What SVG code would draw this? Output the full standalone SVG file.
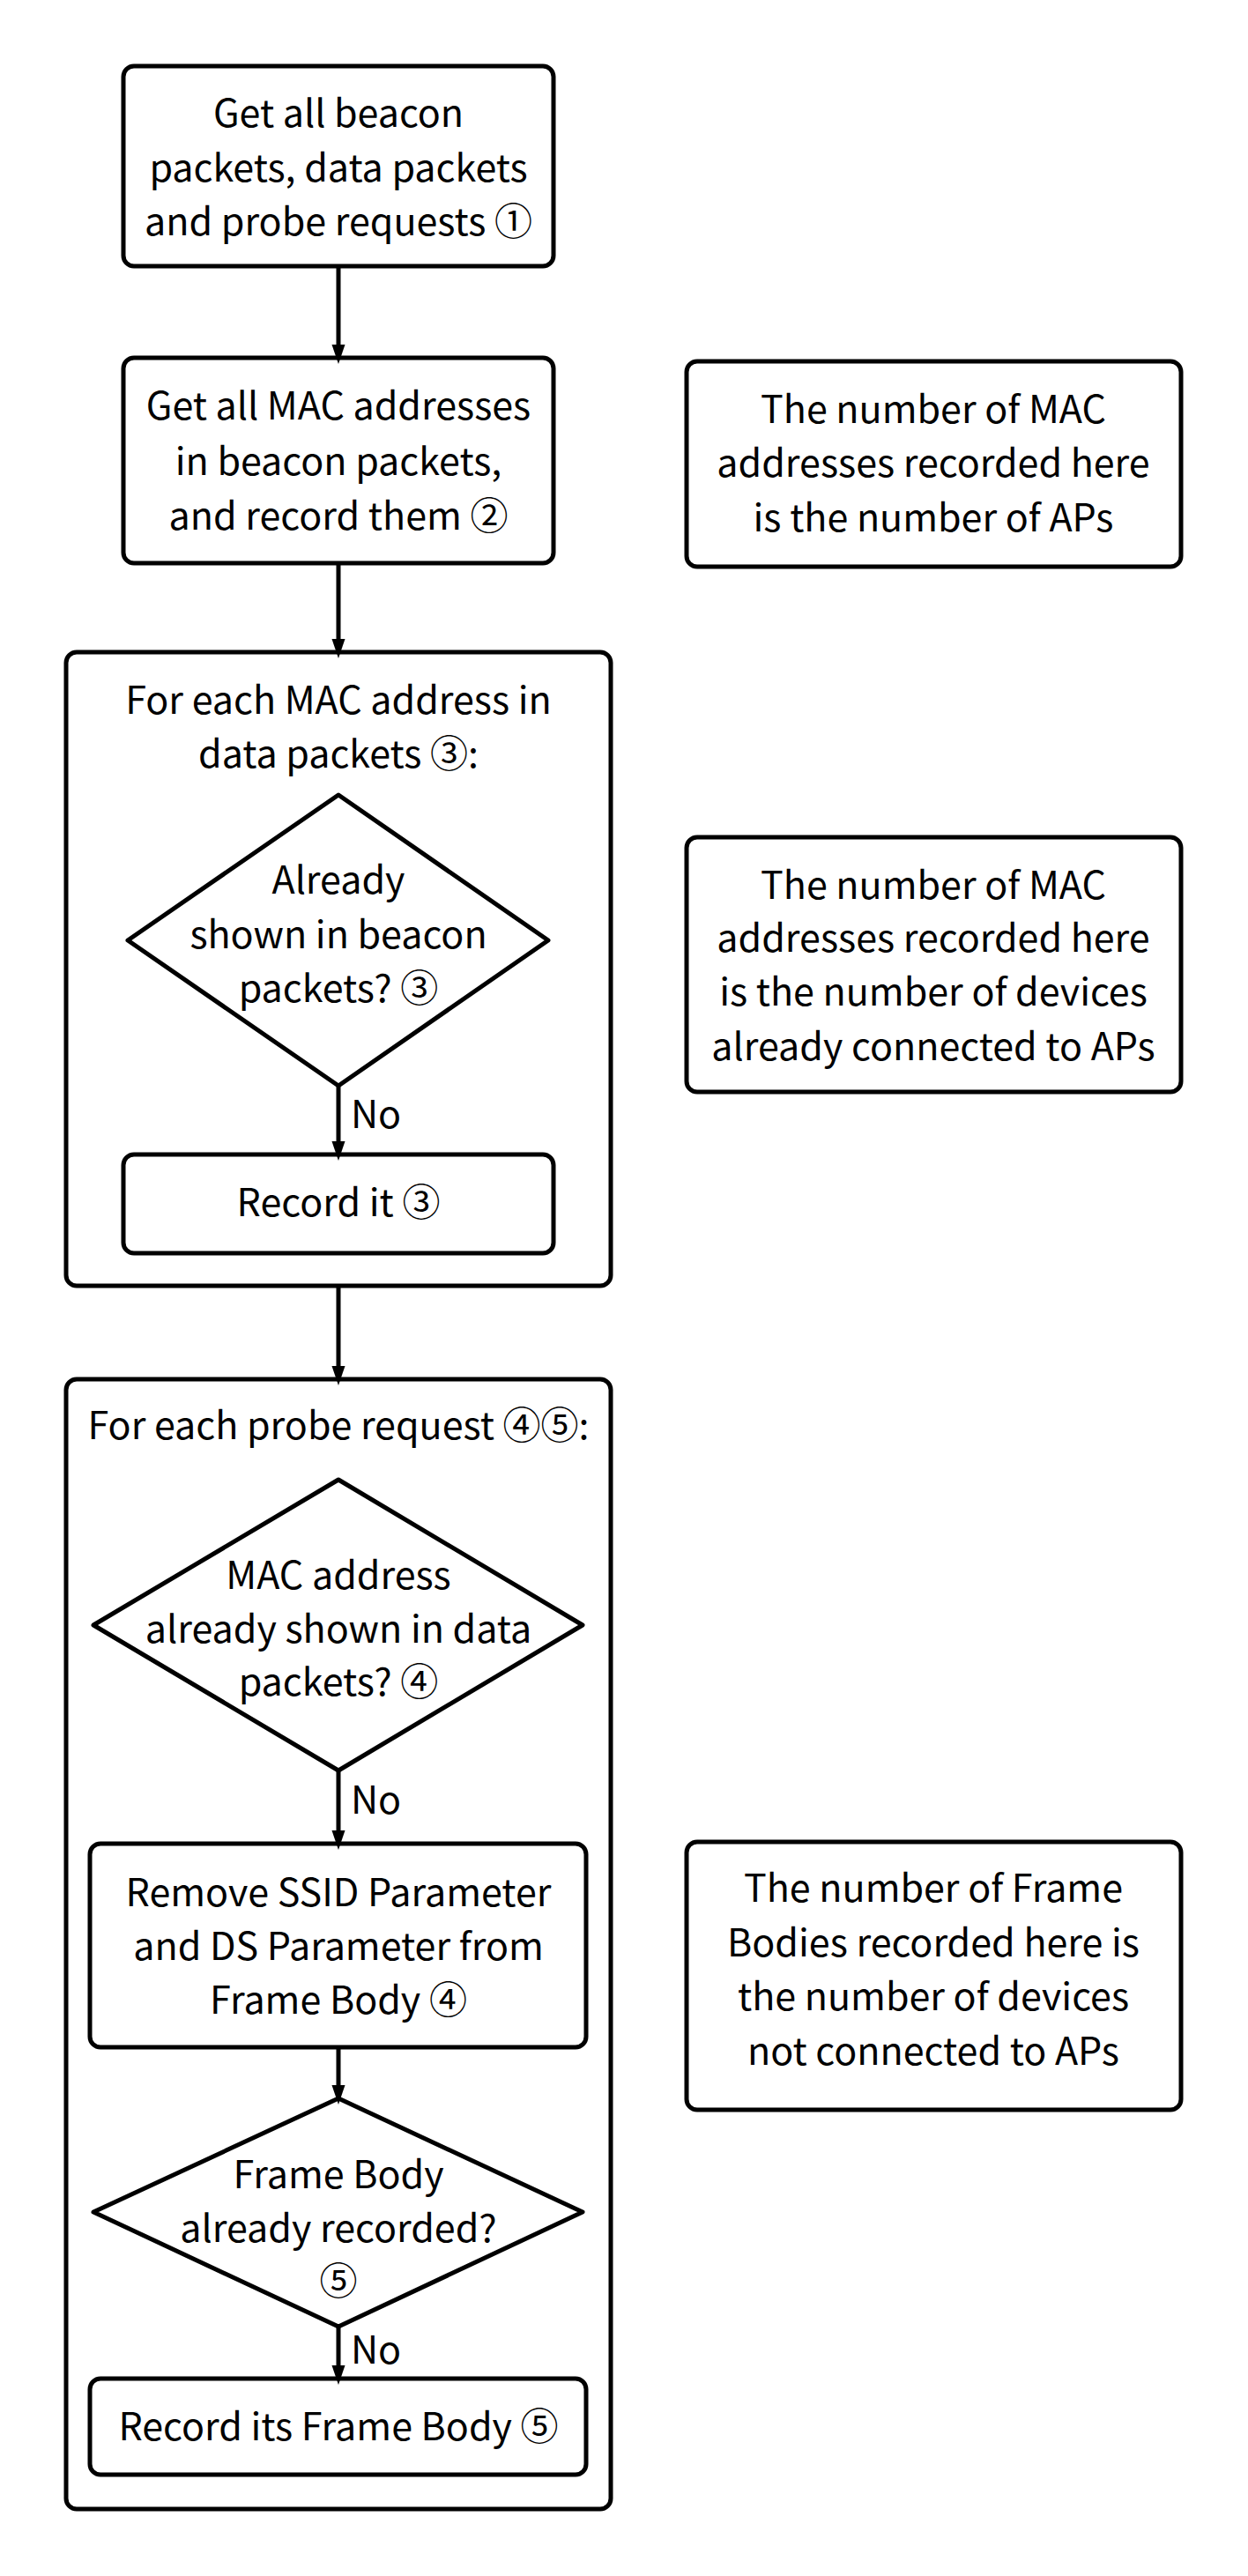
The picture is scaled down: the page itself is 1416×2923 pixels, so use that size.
<svg xmlns="http://www.w3.org/2000/svg" width="1416" height="2923" viewBox="0 0 1416 2923">
<defs>
<marker id="ah" markerUnits="userSpaceOnUse" markerWidth="22" markerHeight="32" refX="22" refY="11" viewBox="0 0 32 22" orient="auto">
<path d="M0,0 L32,11 L0,22 Z" fill="#000"/>
</marker>
<style>
.b{fill:#fff;stroke:#000;stroke-width:5}
.d{fill:#fff;stroke:#000;stroke-width:5;stroke-linejoin:round}
.t{font-family:"Noto Sans CJK SC","Noto Sans",sans-serif;font-size:43px;text-anchor:middle;fill:#000}
.l{font-family:"Noto Sans CJK SC","Noto Sans",sans-serif;font-size:43px;fill:#000}
.c{fill:none;stroke:#000;stroke-width:5}
</style>
</defs>
<rect width="1416" height="2923" fill="#fff"/>
<g id="loop1">
<rect class="b" x="75" y="740" width="618" height="719" rx="12"/>
<text class="t" x="384" y="810">For each MAC address in</text>
<text class="t" x="384" y="871">data packets ③:</text>
</g>
<g id="loop2">
<rect class="b" x="75" y="1565" width="618" height="1282" rx="12"/>
<text class="t" x="384" y="1633">For each probe request ④⑤:</text>
</g>
<g id="n1">
<rect class="b" x="140" y="75" width="488" height="227" rx="12"/>
<text class="t" x="384" y="144">Get all beacon</text>
<text class="t" x="384" y="206">packets, data packets</text>
<text class="t" x="384" y="267">and probe requests ①</text>
</g>
<g id="n2">
<rect class="b" x="140" y="406" width="488" height="233" rx="12"/>
<text class="t" x="384" y="476">Get all MAC addresses</text>
<text class="t" x="384" y="539">in beacon packets,</text>
<text class="t" x="384" y="601">and record them ②</text>
</g>
<g id="noteA">
<rect class="b" x="779" y="410" width="561" height="233" rx="12"/>
<text class="t" x="1059" y="480">The number of MAC</text>
<text class="t" x="1059" y="541">addresses recorded here</text>
<text class="t" x="1059" y="603">is the number of APs</text>
</g>
<g id="d1">
<path class="d" d="M384,902 L622,1067 L384,1232 L145,1067 Z"/>
<text class="t" x="384" y="1014">Already</text>
<text class="t" x="384" y="1076">shown in beacon</text>
<text class="t" x="384" y="1137">packets? ③</text>
</g>
<g id="n3">
<rect class="b" x="140" y="1310" width="488" height="112" rx="12"/>
<text class="t" x="384" y="1380">Record it ③</text>
</g>
<g id="noteB">
<rect class="b" x="779" y="950" width="561" height="289" rx="12"/>
<text class="t" x="1059" y="1020">The number of MAC</text>
<text class="t" x="1059" y="1080">addresses recorded here</text>
<text class="t" x="1059" y="1141">is the number of devices</text>
<text class="t" x="1059" y="1203">already connected to APs</text>
</g>
<g id="d2">
<path class="d" d="M384,1679 L661,1844 L384,2009 L106,1844 Z"/>
<text class="t" x="384" y="1803">MAC address</text>
<text class="t" x="384" y="1864">already shown in data</text>
<text class="t" x="384" y="1924">packets? ④</text>
</g>
<g id="n4">
<rect class="b" x="102" y="2092" width="563" height="231" rx="12"/>
<text class="t" x="384" y="2163">Remove SSID Parameter</text>
<text class="t" x="384" y="2224">and DS Parameter from</text>
<text class="t" x="384" y="2285">Frame Body ④</text>
</g>
<g id="d3">
<path class="d" d="M384,2381 L661,2510 L384,2640 L106,2510 Z"/>
<text class="t" x="384" y="2483">Frame Body</text>
<text class="t" x="384" y="2544">already recorded?</text>
<text class="t" x="384" y="2604">⑤</text>
</g>
<g id="n5">
<rect class="b" x="102" y="2699" width="563" height="109" rx="12"/>
<text class="t" x="384" y="2769">Record its Frame Body ⑤</text>
</g>
<g id="noteC">
<rect class="b" x="779" y="2090" width="561" height="304" rx="12"/>
<text class="t" x="1059" y="2158">The number of Frame</text>
<text class="t" x="1059" y="2220">Bodies recorded here is</text>
<text class="t" x="1059" y="2281">the number of devices</text>
<text class="t" x="1059" y="2343">not connected to APs</text>
</g>
<g id="connectors">
<line class="c" x1="384" y1="302" x2="384" y2="406" marker-end="url(#ah)"/>
<line class="c" x1="384" y1="639" x2="384" y2="740" marker-end="url(#ah)"/>
<line class="c" x1="384" y1="1232" x2="384" y2="1310" marker-end="url(#ah)"/>
<line class="c" x1="384" y1="1459" x2="384" y2="1565" marker-end="url(#ah)"/>
<line class="c" x1="384" y1="2009" x2="384" y2="2092" marker-end="url(#ah)"/>
<line class="c" x1="384" y1="2323" x2="384" y2="2381" marker-end="url(#ah)"/>
<line class="c" x1="384" y1="2640" x2="384" y2="2699" marker-end="url(#ah)"/>
<text class="l" x="398" y="1280">No</text>
<text class="l" x="398" y="2058">No</text>
<text class="l" x="398" y="2682">No</text>
</g>
</svg>
